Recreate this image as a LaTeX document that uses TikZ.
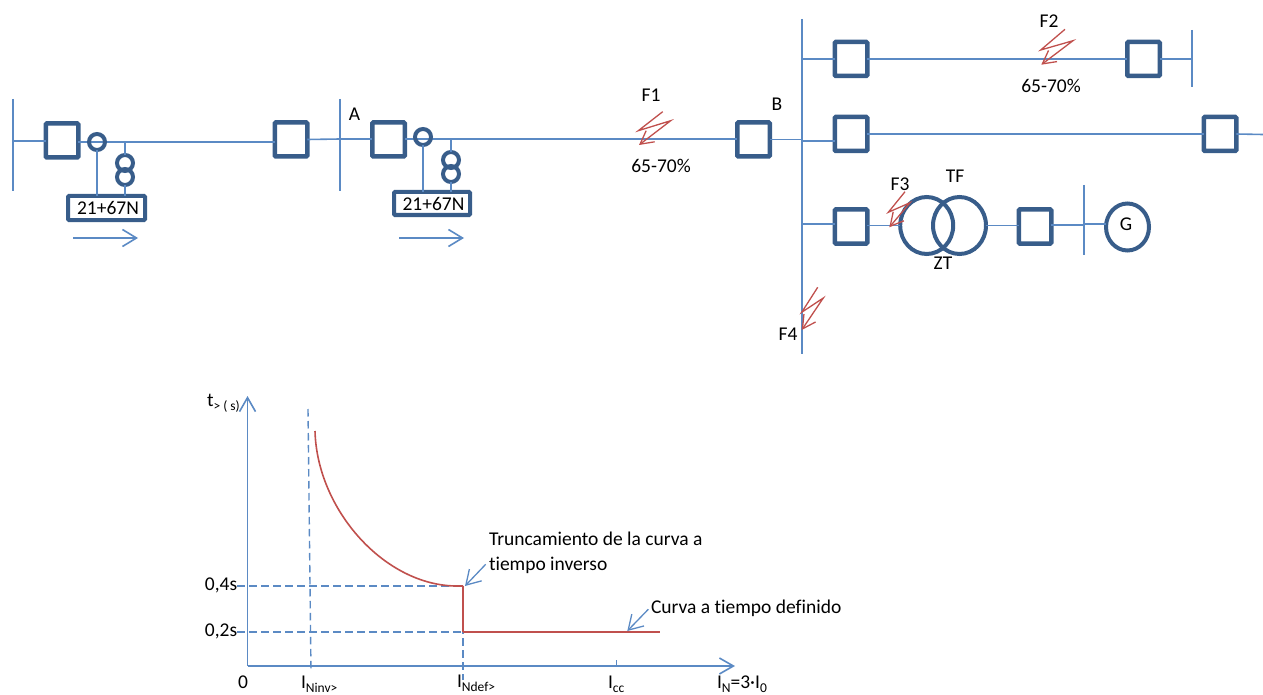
\documentclass[tikz,border=0pt]{standalone}
\usepackage{fontspec}
\setmainfont{Carlito}[Ligatures={NoCommon}]
\usetikzlibrary{arrows.meta,shapes.geometric}
\definecolor{thin}{HTML}{5B8AC4}
\definecolor{thick}{HTML}{385D8A}
\definecolor{fault}{HTML}{C0504D}
\newcommand{\lowtxt}[1]{\raisebox{-0.25em}{\fontsize{13.5}{13.5}\selectfont #1}}
\newcommand{\boltshape}[9]{%
  \coordinate (#1a) at (#2,#3); \coordinate (#1b) at (#4,#5);
  \coordinate (#1c) at (#6,#7); \coordinate (#1d) at (#8,#9);
  \draw[faultline] (#1a) -- (#1b) -- (#1c) -- (#1d);}
\tikzset{
  wire/.style={draw=thin,line width=1.6pt},
  openarrow/.style={wire,-{Straight Barb[length=14pt,width=17pt]}},
  axisline/.style={wire,line width=1.6pt,-{Straight Barb[length=14pt,width=16pt]}},
  faultline/.style={draw=fault,line width=1.3pt,-{Straight Barb[length=13pt,width=14pt]}},
  redline/.style={draw=fault,line width=1.6pt},
  dashline/.style={draw=thin,line width=1.4pt,dash pattern=on 7.5pt off 4.5pt},
  brk/.style={draw=thick,fill=white,line width=4.5pt,rounded corners=1pt,minimum width=32.5pt,minimum height=34pt,inner sep=0pt,outer sep=0pt},
  relay/.style={draw=thick,fill=white,line width=4pt,rounded corners=1pt,inner sep=0pt,outer sep=0pt,font=\fontsize{19.5}{22}\selectfont},
  ring/.style={draw=thick,circle,line width=4pt,inner sep=0pt,outer sep=0pt,minimum size=16pt},
  bigring/.style={draw=thick,ellipse,line width=4pt,inner sep=0pt,outer sep=0pt,minimum width=53pt,minimum height=57pt},
  gen/.style={draw=thick,ellipse,line width=4pt,inner sep=0pt,outer sep=0pt,minimum width=43pt,minimum height=47pt},
  lab/.style={inner sep=0pt,outer sep=0pt,font=\fontsize{19.5}{22}\selectfont},
  lableft/.style={lab,anchor=base west},
}
\begin{document}
\begin{tikzpicture}[x=1pt,y=-1pt]
\useasboundingbox (0,0) rectangle (1263,695);
% bus coordinates
\coordinate (bus1t) at (13,99);   \coordinate (bus1b) at (13,191);
\coordinate (bus1j) at (13,141);
\coordinate (bus2t) at (340,99);  \coordinate (bus2b) at (340,191);
\coordinate (bus2l) at (340,139);
\coordinate (bus3t) at (802,19);  \coordinate (bus3b) at (802,354);
\coordinate (bus3a) at (802,59);  \coordinate (bus3c) at (802,141);
\coordinate (bus3d) at (802,224); \coordinate (bus3m) at (802,139.5);
\coordinate (bus4t) at (1192,30); \coordinate (bus4b) at (1192,87);
\coordinate (bus4j) at (1192,59);
\coordinate (bus5t) at (1084,185);\coordinate (bus5b) at (1084,255);
\coordinate (bus5j) at (1084,225);
\coordinate (edgeR) at (1263,134.5);
\coordinate (edgeL) at (790,139.5);
\coordinate (vt1j) at (125,142); \coordinate (vt2j) at (451,139);
% buses
\draw[wire] (bus1t) -- (bus1b);
\draw[wire] (bus2t) -- (bus2b);
\draw[wire] (bus3t) -- (bus3b);
\draw[wire] (bus4t) -- (bus4b);
\draw[wire] (bus5t) -- (bus5b);
% nodes
\node[brk] (b1) at (62,140.5) {};
\node[brk] (b2) at (291,139.5) {};
\node[brk] (b3) at (388.5,139.5) {};
\node[brk] (b4) at (753.5,139.5) {};
\node[brk] (b5) at (851,59) {};
\node[brk] (b6) at (1143.5,59) {};
\node[brk] (b7) at (851,134) {};
\node[brk] (b8) at (1220,134) {};
\node[brk] (b9) at (851,226.5) {};
\node[brk] (b10) at (1035,226.5) {};
\node[relay,minimum width=77pt,minimum height=24pt] (r1) at (106.5,208) {\hspace*{3pt}21+67N};
\node[relay,minimum width=76pt,minimum height=23pt] (r2) at (432,203.5) {\hspace*{3pt}21+67N};
% connectors (drawn under the rings)
\draw[wire] (bus1j) -- (b1.west |- bus1j);
\draw[wire] (b1.east |- vt1j) -- (b2.west |- vt1j);
\draw[wire] (b2.east) -- (bus2l);
\draw[wire] (bus2l) -- (b3.west |- bus2l);
\draw[wire] (b3.east |- bus2l) -- (b4.west |- bus2l);
\draw[wire] (b4.east) -- (bus3m);
\draw[wire] (bus3a) -- (b5.west);
\draw[wire] (b5.east) -- (b6.west);
\draw[wire] (b6.east) -- (bus4j);
\draw[wire] (edgeL) -- (bus3m);
\draw[wire] (bus3c) -- (b7.west |- bus3c);
\draw[wire] (b7.east) -- (b8.west);
\draw[wire] (b8.east) -- (edgeR);
\draw[wire] (bus3d) -- (b9.west |- bus3d);
% instrument transformers
\node[ring] (ct1) at (97,142) {};
\node[ring] (ct2) at (423,137) {};
\node[ring] (vt1a) at (125,163) {};
\node[ring] (vt1b) at (125,177) {};
\node[ring] (vt2a) at (451,160) {};
\node[ring] (vt2b) at (451,174) {};
\draw[wire] (ct1.south) -- (ct1.south |- r1.north);
\draw[wire] (vt1j) -- (vt1a.north);
\draw[wire] (vt1b.south) -- (vt1b.south |- r1.north);
\draw[wire] (ct2.south) -- (ct2.south |- r2.north);
\draw[wire] (vt2j) -- (vt2a.north);
\draw[wire] (vt2b.south) -- (vt2b.south |- r2.north);
% transformer and generator
\node[bigring] (tf1) at (926.7,225.5) {};
\node[bigring] (tf2) at (959.5,225.5) {};
\node[gen] (g) at (1127.5,227) {};
\node[lab] (gl) at (1126,224.5) {G};
\draw[wire] (b9.east |- tf1.west) -- (tf1.west);
\draw[wire] (tf2.east) -- (b10.west |- tf2.east);
\draw[wire] (b10.east |- bus5j) -- (bus5j);
\draw[wire] (bus5j |- 0,224) -- (g.west |- 0,224);
% direction arrows
\coordinate (d1a) at (73,238); \coordinate (d1b) at (138,238);
\coordinate (d2a) at (399,238); \coordinate (d2b) at (464,238);
\draw[openarrow] (d1a) -- (d1b);
\draw[openarrow] (d2a) -- (d2b);
% faults
\boltshape{fa}{662.7}{111.7}{638.3}{130.7}{670.7}{120.7}{639}{145}
\boltshape{fb}{1065}{29.3}{1040.7}{50}{1073}{40.7}{1041.3}{64.7}
\boltshape{fc}{905}{191.7}{888.3}{212.3}{910}{202.7}{889.3}{227.3}
\boltshape{fd}{817.7}{287.3}{801.7}{312.3}{823.3}{298}{801.7}{330}
% labels
\node[lab] (la) at (354.5,114.5) {A};
\node[lab] (lb) at (777,104.5) {B};
\node[lab] (lf1) at (651,95.5) {F1};
\node[lab] (lp1) at (661,165.5) {65-70\%};
\node[lab] (lf2) at (1049,21.5) {F2};
\node[lab] (lp2) at (1051,85.5) {65-70\%};
\node[lab] (lf3) at (900,184.5) {F3};
\node[lab] (lf4) at (788,334.5) {F4};
\node[lab] (ltf) at (955,176.5) {TF};
\node[lab] (lzt) at (943,263.5) {ZT};
% graph
\coordinate (o) at (247.5,666);
\coordinate (ytop) at (247.5,396);
\coordinate (xend) at (735,666);
\coordinate (h4l) at (237,586); \coordinate (h4r) at (463,586);
\coordinate (h2l) at (237,632); \coordinate (h2r) at (463,632);
\coordinate (vit) at (308,409); \coordinate (vib) at (311,672);
\coordinate (vdt) at (463,590); \coordinate (vdb) at (463,680);
\coordinate (cs) at (315,431); \coordinate (ce) at (457,586);
\coordinate (rend) at (660,632);
\coordinate (tk1) at (616.5,660); \coordinate (tk2) at (616.5,666);
\draw[dashline] (h4l) -- (h4r);
\draw[dashline] (h2l) -- (h2r);
\draw[dashline] (vit) -- (vib);
\draw[dashline] (vdt) -- (vdb);
\draw[axisline] (o) -- (ytop);
\draw[axisline] (o) -- (xend);
\draw[wire] (tk1) -- (tk2);
\draw[redline] (cs) .. controls (317,510) and (385,586) .. (ce) -- (h4r);
\draw[redline] (h4r) -- (h2r);
\draw[redline] (h2r) -- (rend);
\node[lableft] (lt) at (207,406) {t\lowtxt{> ( s)}};
\node[lab] (l04) at (221,585.5) {0,4s};
\node[lab] (l02) at (221,631.5) {0,2s};
\node[lab] (l0) at (243,682) {0};
\node[lableft] (lin) at (301,688) {I\lowtxt{Ninv>}};
\node[lableft] (lid) at (457,687) {I\lowtxt{Ndef>}};
\node[lableft] (lic) at (608,688) {I\lowtxt{cc}};
\node[lableft] (lie) at (717,688) {I\lowtxt{N}=3·I\lowtxt{0}};
\node[lableft] (lt1) at (489,545) {Truncamiento de la curva a};
\node[lableft] (lt2) at (489,570) {tiempo inverso};
\node[lableft] (lcd) at (651,613) {Curva a tiempo definido};
\coordinate (ta) at (485.7,564.3); \coordinate (tb) at (465,586);
\coordinate (ca) at (648.3,609.3); \coordinate (cb) at (627.3,631);
\draw[openarrow,line width=1.3pt] (ta) -- (tb);
\draw[openarrow,line width=1.3pt] (ca) -- (cb);
\end{tikzpicture}
\end{document}
